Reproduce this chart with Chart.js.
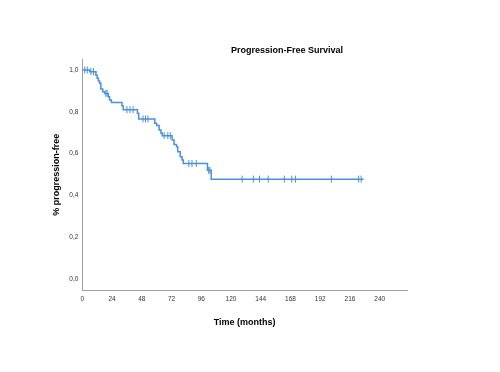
<!DOCTYPE html>
<html>
<head>
<meta charset="utf-8">
<script src="https://cdn.jsdelivr.net/npm/chart.js@4"></script>
<style>
  html, body { margin: 0; padding: 0; background: #fff; }
</style>
</head>
<body>
<canvas id="pfsChart" width="500" height="372"></canvas>
<script>
// Kaplan-Meier steps: time (months) and survival after each drop
var stepTimes = [0, 6, 11, 12, 13, 14, 15, 16.5, 18, 21, 22, 23.5, 32, 33, 44.5, 45.5, 58.5, 60, 62, 63.5, 64.5, 72.5, 74, 76, 77, 79, 80.5, 81.5, 101, 104, 227];
var survival = [1.0, 0.992, 0.975, 0.96, 0.947, 0.936, 0.909, 0.896, 0.888, 0.872, 0.856, 0.845, 0.829, 0.81, 0.793, 0.766, 0.745, 0.734, 0.713, 0.697, 0.686, 0.665, 0.644, 0.633, 0.609, 0.585, 0.57, 0.553, 0.52, 0.478, 0.478];
// censored observations (months)
var censorTimes = [2, 4, 7, 9, 19, 20, 36, 38.5, 41, 49, 51, 53, 66, 69, 71, 86, 88.5, 92, 102, 103, 129, 138, 143, 150, 163, 169, 172, 201, 223, 225];
var xTicks = [0, 24, 48, 72, 96, 120, 144, 168, 192, 216, 240];
var yTicks = [0, 0.2, 0.4, 0.6, 0.8, 1.0];

var chartTitle = 'Progression-Free Survival';
var xTitle = 'Time (months)';
var yTitle = '% progression-free';

var lineColor = '#4a8fe0';

function survivalAt(t) {
    var s = survival[0];
    for (var i = 0; i < stepTimes.length; i++) {
        if (stepTimes[i] <= t) s = survival[i];
    }
    return s;
}

var curve = stepTimes.map(function (t, i) { return {x: t, y: survival[i]}; });
var censored = censorTimes.map(function (t) { return {x: t, y: survivalAt(t)}; });

var textPlugin = {
    id: 'texts',
    afterDraw: function (chart) {
        var ctx = chart.ctx;
        var area = chart.chartArea;
        ctx.save();
        ctx.fillStyle = '#000';
        ctx.textAlign = 'center';
        ctx.textBaseline = 'middle';
        ctx.font = 'bold 9px "Liberation Sans", Arial, sans-serif';
        ctx.fillText(chartTitle, 287, 51);
        ctx.fillText(xTitle, (area.left + area.right) / 2, 323);
        ctx.translate(57, (area.top + area.bottom) / 2);
        ctx.rotate(-Math.PI / 2);
        ctx.fillText(yTitle, 0, 0);
        ctx.restore();
    }
};

var ctx = document.getElementById('pfsChart');
new Chart(ctx, {
    type: 'line',
    data: {
        datasets: [{
            label: 'Survival',
            data: curve,
            stepped: 'before',
            borderColor: lineColor,
            borderWidth: 1.5,
            pointRadius: 0,
            fill: false
        }, {
            label: 'Censored',
            type: 'scatter',
            data: censored,
            pointStyle: 'line',
            rotation: 90,
            pointRadius: 3.5,
            borderColor: lineColor,
            borderWidth: 1,
            showLine: false
        }]
    },
    options: {
        responsive: false,
        animation: false,
        layout: {
            padding: {left: 0, top: 59.5, right: 93, bottom: 0}
        },
        plugins: {
            legend: {display: false},
            title: {display: false},
            tooltip: {enabled: false}
        },
        scales: {
            x: {
                type: 'linear',
                min: 0,
                max: 262,
                afterBuildTicks: function (s) {
                    s.ticks = xTicks.map(function (v) { return {value: v}; });
                },
                afterFit: function (s) { s.height = 82; },
                grid: {display: false, drawTicks: false},
                border: {display: true, color: '#a0a0a0', width: 1},
                ticks: {
                    padding: 5,
                    maxRotation: 0,
                    color: '#333',
                    font: {family: '"Liberation Sans", Arial', size: 6.5}
                }
            },
            y: {
                min: -0.052,
                max: 1.05,
                afterBuildTicks: function (s) {
                    s.ticks = yTicks.map(function (v) { return {value: v}; });
                },
                afterFit: function (s) { s.width = 82.3; },
                grid: {display: false, drawTicks: false},
                border: {display: true, color: '#a0a0a0', width: 1},
                ticks: {
                    padding: 4,
                    color: '#333',
                    font: {family: '"Liberation Sans", Arial', size: 6.5},
                    callback: function (v) { return v.toFixed(1).replace('.', ','); }
                }
            }
        }
    },
    plugins: [textPlugin]
});
</script>
</body>
</html>
